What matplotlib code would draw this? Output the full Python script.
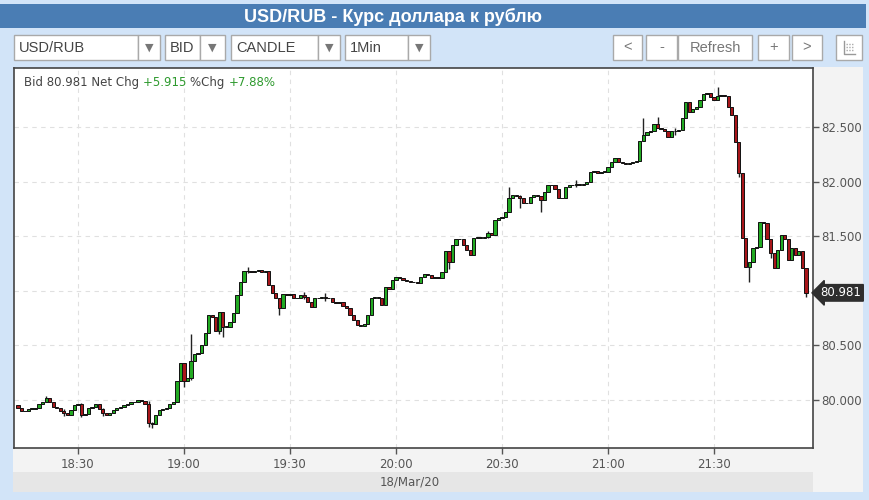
import numpy as np
import matplotlib
matplotlib.use("Agg")
import matplotlib.pyplot as plt
from matplotlib.patches import Rectangle

# 1-minute closes, 18:13 .. 21:56 (18/Mar/20)
start_minute = 13  # minutes after 18:00
closes = [
    79.93, 79.90, 79.90, 79.92, 79.92, 79.93, 79.96, 79.98, 80.02, 79.98,
    79.94, 79.93, 79.90, 79.88, 79.86, 79.91, 79.95, 79.96, 79.86, 79.87,
    79.93, 79.94, 79.96, 79.92, 79.88, 79.86, 79.88, 79.91, 79.93, 79.94,
    79.95, 79.96, 79.98, 79.98, 80.00, 79.99, 79.96, 79.79, 79.78, 79.86,
    79.91, 79.92, 79.93, 79.96, 79.98, 80.17, 80.34, 80.17, 80.20, 80.36,
    80.42, 80.43, 80.50, 80.61, 80.78, 80.76, 80.63, 80.81, 80.67, 80.67,
    80.71, 80.80, 80.96, 81.08, 81.18, 81.18, 81.17, 81.18, 81.19, 81.17,
    81.18, 81.05, 80.98, 80.93, 80.84, 80.97, 80.96, 80.97, 80.93, 80.93,
    80.96, 80.94, 80.90, 80.85, 80.93, 80.93, 80.94, 80.93, 80.93, 80.90,
    80.89, 80.90, 80.86, 80.84, 80.78, 80.73, 80.69, 80.68, 80.70, 80.78,
    80.93, 80.94, 80.93, 80.87, 81.03, 81.02, 81.10, 81.13, 81.12, 81.10,
    81.09, 81.08, 81.08, 81.07, 81.13, 81.15, 81.14, 81.12, 81.13, 81.12,
    81.17, 81.36, 81.26, 81.42, 81.47, 81.47, 81.42, 81.37, 81.33, 81.48,
    81.49, 81.48, 81.49, 81.53, 81.51, 81.65, 81.67, 81.68, 81.72, 81.85,
    81.88, 81.87, 81.85, 81.80, 81.80, 81.86, 81.88, 81.87, 81.83, 81.90,
    81.97, 81.97, 81.93, 81.85, 81.85, 81.95, 81.97, 81.97, 81.98, 81.97,
    81.98, 82.00, 82.09, 82.10, 82.08, 82.09, 82.09, 82.13, 82.18, 82.22,
    82.18, 82.17, 82.16, 82.17, 82.18, 82.19, 82.37, 82.43, 82.45, 82.46,
    82.53, 82.49, 82.48, 82.46, 82.41, 82.46, 82.46, 82.47, 82.58, 82.73,
    82.64, 82.66, 82.68, 82.75, 82.80, 82.81, 82.77, 82.75, 82.78, 82.79,
    82.78, 82.68, 82.61, 82.36, 82.08, 81.48, 81.22, 81.26, 81.39, 81.40,
    81.63, 81.62, 81.47, 81.35, 81.21, 81.37, 81.51, 81.47, 81.28, 81.39,
    81.33, 81.36, 81.21, 80.981,
]
first_open = 79.95

# notable wick extremes: candle index -> (high, low)
wicks = {
    8: (80.04, 79.98), 13: (79.92, 79.85), 18: (79.97, 79.84), 24: (79.93, 79.85),
    37: (79.99, 79.75), 38: (79.80, 79.74), 47: (80.34, 80.12), 49: (80.60, 80.18),
    57: (80.81, 80.60), 58: (80.81, 80.58), 65: (81.22, 81.16), 74: (80.93, 80.78),
    81: (80.99, 80.92), 87: (80.98, 80.91), 122: (81.36, 81.20), 133: (81.55, 81.48),
    139: (81.95, 81.72), 142: (81.88, 81.76), 148: (81.87, 81.72), 158: (82.01, 81.95),
    176: (82.37, 82.33), 177: (82.58, 82.37), 181: (82.59, 82.49), 186: (82.49, 82.43),
    198: (82.87, 82.75), 204: (82.36, 82.04), 207: (81.26, 81.08), 213: (81.47, 81.30),
    223: (81.21, 80.94),
}

last_bid = "80.981"
net_chg = "+5.915"
pct_chg = "+7.88%"
x_ticks = [30, 60, 90, 120, 150, 180, 210]
x_labels = ["18:30", "19:00", "19:30", "20:00", "20:30", "21:00", "21:30"]
y_ticks = [80.0, 80.5, 81.5, 82.0, 82.5]
date_label = "18/Mar/20"

W, H = 869, 500
fig = plt.figure(figsize=(W / 100, H / 100), dpi=100)
fig.patch.set_facecolor("#d2e4f8")

# ---- page chrome drawn in pixel coordinates ----
bg = fig.add_axes([0, 0, 1, 1], zorder=0)
bg.set_xlim(0, W)
bg.set_ylim(H, 0)
bg.axis("off")

def rect(x0, y0, x1, y1, fc, ec="none", lw=1):
    bg.add_patch(Rectangle((x0, y0), x1 - x0, y1 - y0, fc=fc, ec=ec, lw=lw))

narrow = ["Liberation Sans Narrow", "Liberation Sans", "DejaVu Sans"]

rect(0, 4, 866, 28, "#4a7db4")
bg.text(393, 16.5, "USD/RUB - Курс доллара к рублю", color="white", fontsize=13,
        fontweight="bold", ha="center", va="center", family=narrow)

dropdowns = [(14, 138, 160, "USD/RUB"), (165, 200, 225, "BID"),
             (231, 318, 340, "CANDLE"), (345, 408, 430, "1Min")]
for x0, xa, x1, lab in dropdowns:
    rect(x0, 35, xa, 60, "white", "#a9a9a9")
    rect(xa, 35, x1, 60, "white", "#a9a9a9")
    bg.text(x0 + 5, 47.5, lab, fontsize=10.5, color="#444", va="center", family=narrow)
    bg.text((xa + x1) / 2, 47.5, "▼", fontsize=8, color="#777", ha="center", va="center")

buttons = [(613, 642, "<"), (646, 677, "-"), (678, 752, "Refresh"),
           (758, 789, "+"), (792, 822, ">")]
for x0, x1, lab in buttons:
    rect(x0, 35, x1, 60, "white", "#a9a9a9")
    bg.text((x0 + x1) / 2, 47.5, lab, fontsize=10.5, color="#777", ha="center",
            va="center", family=["Liberation Sans", "DejaVu Sans"])
rect(836, 35, 862, 60, "white", "#a9a9a9")
bg.plot([844, 844, 855], [41, 54, 54], color="#999", lw=1)
for yy in (44, 47, 50):
    bg.plot([846, 854], [yy, yy], color="#aaa", lw=1, ls=(0, (1, 1)))

rect(813, 67, 863, 492, "#f3f3f3")
rect(13, 448, 813, 472, "#f3f3f3")
rect(13, 472, 813, 492, "#e6e6e6")
bg.text(410, 482, date_label, fontsize=8.5, color="#555", ha="center", va="center")

# ---- candlestick chart ----
ax = fig.add_axes([14 / W, 1 - 448 / H, (813 - 14) / W, (448 - 68) / H], zorder=2)
ax.set_facecolor("white")

c = np.array(closes)
o = np.concatenate([[first_open], c[:-1]])
t = start_minute + np.arange(len(c))
hi = np.maximum(o, c)
lo = np.minimum(o, c)
for i, (h, l) in wicks.items():
    hi[i] = max(hi[i], h)
    lo[i] = min(lo[i], l)

ax.vlines(t, lo, hi, color="#222", lw=1.0, zorder=3)
up = c >= o
body_lo = np.minimum(o, c)
body_h = np.maximum(np.abs(c - o), 0.003)
ax.bar(t[up], body_h[up], bottom=body_lo[up], width=0.92, color="#22aa22",
       edgecolor="#111", linewidth=0.7, zorder=4)
ax.bar(t[~up], body_h[~up], bottom=body_lo[~up], width=0.92, color="#a8161a",
       edgecolor="#111", linewidth=0.7, zorder=4)

ax.set_xlim(11.9, 238.0)
ax.set_ylim(79.56, 83.04)

ax.set_xticks(x_ticks)
ax.set_xticklabels(x_labels)
ax.yaxis.tick_right()
ax.set_yticks(y_ticks)
ax.set_yticklabels([f"{v:.3f}" for v in y_ticks])
ax.tick_params(axis="both", colors="#555", labelsize=8.5, length=4, width=1)
ax.tick_params(axis="y", pad=2)
ax.tick_params(axis="x", pad=3)
for v in [80.0, 80.5, 81.0, 81.5, 82.0, 82.5]:
    ax.axhline(v, color="#e0e0e0", lw=0.8, ls=(0, (4, 4)), zorder=1)
for v in x_ticks:
    ax.axvline(v, color="#e0e0e0", lw=0.8, ls=(0, (4, 4)), zorder=1)
for s in ax.spines.values():
    s.set_color("#444")
    s.set_linewidth(1.2)

# last price tag
ax.annotate(last_bid, xy=(1, c[-1]), xycoords=("axes fraction", "data"),
            xytext=(5.5, 0), textcoords="offset points", va="center", ha="left",
            fontsize=8.5, color="white", annotation_clip=False,
            bbox=dict(boxstyle="larrow,pad=0.15", fc="#2e2e2e", ec="#2e2e2e"))

# info line
parts = [(f"Bid {last_bid} Net Chg ", "#444"), (net_chg + " ", "#2e9a2e"),
         ("%Chg ", "#444"), (pct_chg, "#2e9a2e")]
prev = ax.text(0.013, 0.962, parts[0][0], transform=ax.transAxes, fontsize=8.5,
               color=parts[0][1], va="center", ha="left", zorder=6)
for txt, col in parts[1:]:
    prev = ax.annotate(txt, xy=(1, 0), xycoords=prev, va="bottom", ha="left",
                       fontsize=8.5, color=col, zorder=6)

fig.savefig("out.png", dpi=100, facecolor=fig.get_facecolor())
